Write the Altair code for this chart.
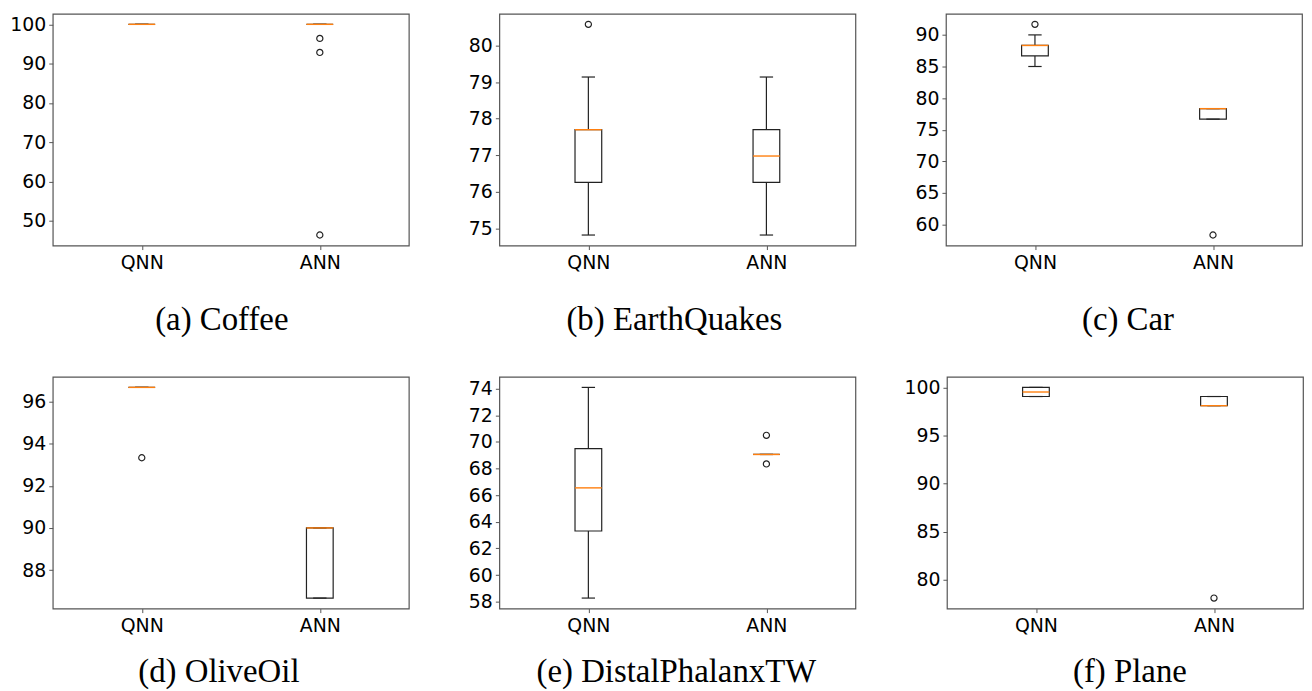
import altair as alt
import pandas as pd

# ---- data ----
MODELS = ["QNN", "ANN"]
POSITIONS = [1, 2]
TITLES = ["(a) Coffee", "(b) EarthQuakes", "(c) Car",
          "(d) OliveOil", "(e) DistalPhalanxTW", "(f) Plane"]

# each stats list: [whisker low, q1, median, q3, whisker high]
COFFEE_QNN = [100.0, 100.0, 100.0, 100.0, 100.0]
COFFEE_ANN = [100.0, 100.0, 100.0, 100.0, 100.0]
COFFEE_OUT_QNN = []
COFFEE_OUT_ANN = [96.43, 92.86, 46.43]
COFFEE_TICKS = [50, 60, 70, 80, 90, 100]

EARTH_QNN = [74.82, 76.26, 77.70, 77.70, 79.14]
EARTH_ANN = [74.82, 76.26, 76.98, 77.70, 79.14]
EARTH_OUT_QNN = [80.58]
EARTH_OUT_ANN = []
EARTH_TICKS = [75, 76, 77, 78, 79, 80]

CAR_QNN = [85.0, 86.67, 88.33, 88.33, 90.0]
CAR_ANN = [76.67, 76.67, 78.33, 78.33, 78.33]
CAR_OUT_QNN = [91.67]
CAR_OUT_ANN = [58.33]
CAR_TICKS = [60, 65, 70, 75, 80, 85, 90]

OLIVE_QNN = [96.67, 96.67, 96.67, 96.67, 96.67]
OLIVE_ANN = [86.67, 86.67, 90.0, 90.0, 90.0]
OLIVE_OUT_QNN = [93.33]
OLIVE_OUT_ANN = []
OLIVE_TICKS = [88, 90, 92, 94, 96]

DISTAL_QNN = [58.27, 63.31, 66.55, 69.50, 74.10]
DISTAL_ANN = [69.06, 69.06, 69.06, 69.06, 69.06]
DISTAL_OUT_QNN = []
DISTAL_OUT_ANN = [70.50, 68.35]
DISTAL_TICKS = [58, 60, 62, 64, 66, 68, 70, 72, 74]

PLANE_QNN = [99.05, 99.05, 99.52, 100.0, 100.0]
PLANE_ANN = [98.10, 98.10, 98.10, 99.05, 99.05]
PLANE_OUT_QNN = []
PLANE_OUT_ANN = [78.10]
PLANE_TICKS = [80, 85, 90, 95, 100]

# ---- styling ----
W, H = 358, 233
Y_EXTENT = 42
BOX_HALF = 0.075
CAP_HALF = 0.0375
FRAME = "#555555"
INK = "#222222"
TICK_FONT = "DejaVu Sans"
CAP_FONT = "Liberation Serif"


def panel(title, qnn, ann, out_q, out_a, ticks, offset, dx):
    stats = pd.DataFrame({
        "pos": POSITIONS,
        "model": MODELS,
        "wlo": [qnn[0], ann[0]],
        "q1": [qnn[1], ann[1]],
        "med": [qnn[2], ann[2]],
        "q3": [qnn[3], ann[3]],
        "whi": [qnn[4], ann[4]],
    })
    outs = pd.DataFrame({
        "pos": [1] * len(out_q) + [2] * len(out_a),
        "value": list(out_q) + list(out_a),
    })
    allv = qnn + ann + list(out_q) + list(out_a)
    lo, hi = min(allv), max(allv)
    m = 0.05 * (hi - lo)

    xs = alt.Scale(domain=[0.5, 2.5], nice=False, zero=False)
    ys = alt.Scale(domain=[lo - m, hi + m], nice=False, zero=False)
    xax = alt.Axis(values=POSITIONS, labelExpr="datum.value == 1 ? 'QNN' : 'ANN'",
                   title=None, grid=False, domain=False, tickSize=4, labelPadding=4,
                   tickColor=FRAME, labelColor="black", labelFont=TICK_FONT,
                   labelFontSize=19, labelFlush=False, minExtent=22, maxExtent=22)
    yax = alt.Axis(values=ticks, title=None, grid=False, domain=False, tickSize=4,
                   labelPadding=3, tickColor=FRAME, labelColor="black",
                   labelFont=TICK_FONT, labelFontSize=19, labelFlush=False,
                   labelOverlap=False, minExtent=Y_EXTENT, maxExtent=Y_EXTENT)

    base = alt.Chart(stats).transform_calculate(
        xl=f"datum.pos - {BOX_HALF}", xr=f"datum.pos + {BOX_HALF}",
        cl=f"datum.pos - {CAP_HALF}", cr=f"datum.pos + {CAP_HALF}")

    box = base.mark_rect(fill="white", stroke=INK, strokeWidth=1.2).encode(
        x=alt.X("xl:Q", scale=xs, axis=xax), x2="xr:Q",
        y=alt.Y("q1:Q", scale=ys, axis=yax), y2="q3:Q")
    wl = base.mark_rule(color=INK, strokeWidth=1.2).encode(
        x=alt.X("pos:Q", scale=xs, axis=xax),
        y=alt.Y("wlo:Q", scale=ys, axis=yax), y2="q1:Q")
    wh = base.mark_rule(color=INK, strokeWidth=1.2).encode(
        x=alt.X("pos:Q", scale=xs, axis=xax),
        y=alt.Y("q3:Q", scale=ys, axis=yax), y2="whi:Q")
    cl = base.mark_rule(color=INK, strokeWidth=1.2).encode(
        x=alt.X("cl:Q", scale=xs, axis=xax), x2="cr:Q",
        y=alt.Y("wlo:Q", scale=ys, axis=yax))
    ch = base.mark_rule(color=INK, strokeWidth=1.2).encode(
        x=alt.X("cl:Q", scale=xs, axis=xax), x2="cr:Q",
        y=alt.Y("whi:Q", scale=ys, axis=yax))
    med = base.mark_rule(color="#ff7f0e", strokeWidth=1.4).encode(
        x=alt.X("xl:Q", scale=xs, axis=xax), x2="xr:Q",
        y=alt.Y("med:Q", scale=ys, axis=yax))
    layers = [box, wl, wh, cl, ch, med]
    if len(outs):
        pts = alt.Chart(outs).mark_point(shape="circle", filled=False, color=INK,
                                         strokeWidth=1.2, size=38, opacity=1).encode(
            x=alt.X("pos:Q", scale=xs, axis=xax),
            y=alt.Y("value:Q", scale=ys, axis=yax))
        layers.append(pts)

    return alt.layer(*layers).properties(
        width=W, height=H,
        title=alt.TitleParams(title, orient="bottom", anchor="middle", font=CAP_FONT,
                              fontSize=33, fontWeight="normal", color="black",
                              baseline="alphabetic", offset=offset, dx=dx))


pa = panel(TITLES[0], COFFEE_QNN, COFFEE_ANN, COFFEE_OUT_QNN, COFFEE_OUT_ANN, COFFEE_TICKS, 58, -9)
pb = panel(TITLES[1], EARTH_QNN, EARTH_ANN, EARTH_OUT_QNN, EARTH_OUT_ANN, EARTH_TICKS, 58, -3)
pc = panel(TITLES[2], CAR_QNN, CAR_ANN, CAR_OUT_QNN, CAR_OUT_ANN, CAR_TICKS, 58, 4)
pd_ = panel(TITLES[3], OLIVE_QNN, OLIVE_ANN, OLIVE_OUT_QNN, OLIVE_OUT_ANN, OLIVE_TICKS, 47, -12)
pe = panel(TITLES[4], DISTAL_QNN, DISTAL_ANN, DISTAL_OUT_QNN, DISTAL_OUT_ANN, DISTAL_TICKS, 47, -1)
pf = panel(TITLES[5], PLANE_QNN, PLANE_ANN, PLANE_OUT_QNN, PLANE_OUT_ANN, PLANE_TICKS, 47, 5)

top = alt.hconcat(pa, pb, pc, spacing=47)
bottom = alt.hconcat(pd_, pe, pf, spacing=47)

chart = alt.vconcat(top, bottom, spacing=38).properties(
    padding={"left": 1, "top": 3, "right": 0, "bottom": 0}
).configure(
    background="white"
).configure_view(
    stroke=FRAME, strokeWidth=1.2
)

chart.save("out.html", embed_options={"renderer": "svg", "actions": False})
